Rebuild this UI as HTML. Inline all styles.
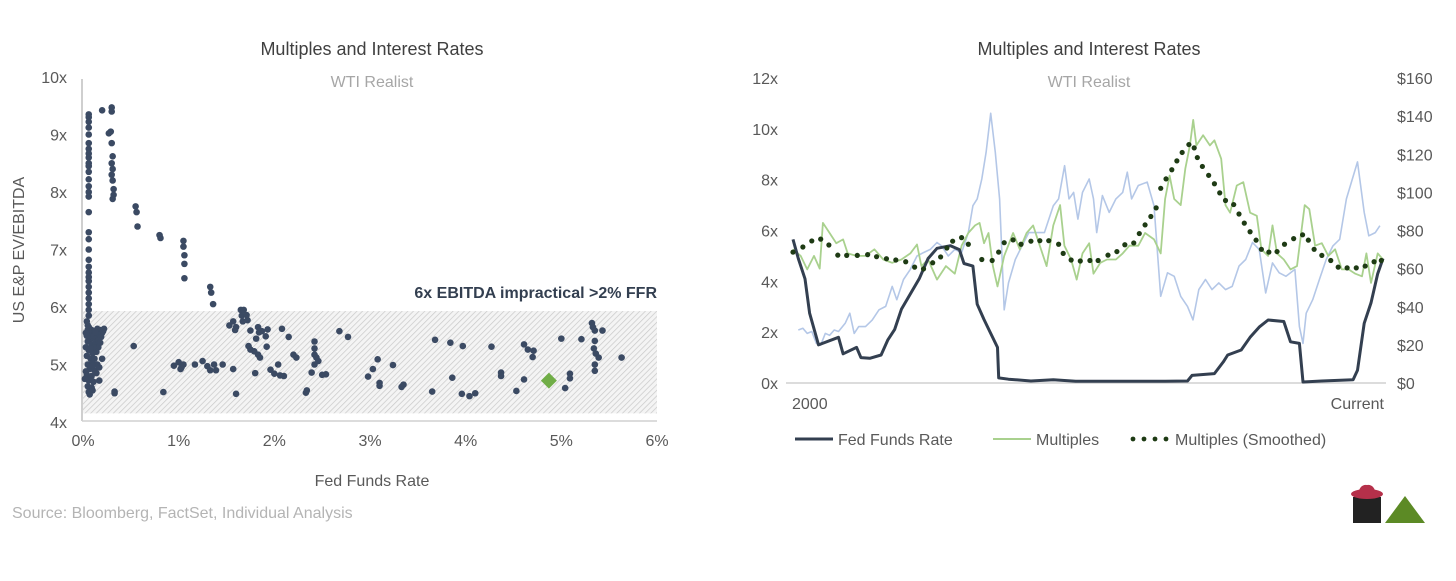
<!DOCTYPE html>
<html><head><meta charset="utf-8">
<style>
html,body{margin:0;padding:0;background:#fff;}
body{width:1456px;height:581px;overflow:hidden;position:relative;font-family:"Liberation Sans",Arial,sans-serif;}
svg{position:absolute;left:0;top:0;}
text{font-family:"Liberation Sans",Arial,sans-serif;}
</style></head>
<body>
<svg id="chart" width="1456" height="581" viewBox="0 0 1456 581">
<defs>
<pattern id="hatch" width="4" height="4" patternUnits="userSpaceOnUse" patternTransform="rotate(45)">
<rect width="4" height="4" fill="#f4f4f4"/>
<line x1="0" y1="0" x2="0" y2="4" stroke="#c8c8c8" stroke-width="1.4"/>
</pattern>
</defs>
<g id="left"></g>
<g id="right"></g>
<text x="12" y="518" font-size="16" fill="#b4b4b4">Source: Bloomberg, FactSet, Individual Analysis</text>
<g>
<rect x="1353" y="497" width="28" height="26" fill="#222"/>
<ellipse x="0" cx="1367" cy="494" rx="16" ry="5" fill="#b5304a"/>
<path d="M1358 494 Q1360 484 1367 485 Q1374 484 1376 494 Z" fill="#b5304a"/>
<polygon points="1385,523 1405,496 1425,523" fill="#5c8a25"/>
</g>
</svg>
<script>
// ---------- LEFT SCATTER DATA ----------
const scatterFFR = [0.06,0.06,0.06,0.06,0.06,0.06,0.06,0.06,0.06,0.06,0.06,0.06,0.06,0.06,0.06,0.06,0.06,0.06,0.06,0.06,0.06,0.06,0.06,0.06,0.06,0.06,0.06,0.06,0.06,0.06,0.06,
0.3,0.3,0.29,0.3,0.31,0.3,0.31,0.3,0.31,0.32,0.32,0.31,0.2,0.27,
0.55,0.56,0.57,0.8,0.81,1.05,1.05,1.06,1.06,1.06,1.33,1.34,1.36,1.65,1.66,1.67,
0.05,0.07,0.09,0.12,0.15,0.18,0.2,0.04,0.08,0.11,0.14,0.17,0.19,0.05,0.09,0.13,0.16,0.06,0.1,0.14,0.04,0.08,0.12,0.2,0.05,0.1,0.15,0.07,0.12,0.17,0.04,0.09,0.14,0.06,0.11,0.17,0.05,0.09,0.06,0.1,0.07,0.03,0.03,0.02,0.11,0.13,0.16,0.1,0.08,0.18,0.03,0.06,0.04,0.05,0.21,0.22,
0.53,0.33,0.33,0.84,0.95,1.0,1.02,1.03,1.05,1.17,1.25,1.3,1.33,1.37,1.39,1.46,1.57,1.6,1.53,1.57,1.6,1.59,1.68,1.71,1.72,
1.75,1.83,1.87,1.93,1.84,1.81,1.91,1.73,1.75,1.79,1.83,1.85,1.92,2.08,2.15,1.96,2.0,2.06,2.1,2.04,1.8,
2.2,2.23,2.42,2.42,2.42,2.44,2.46,2.42,2.39,2.5,2.54,2.34,2.33,2.68,2.77,
3.08,3.03,2.98,3.1,3.1,3.24,3.35,3.33,3.65,3.68,3.84,3.86,3.97,3.96,4.04,4.1,4.27,
4.37,4.37,4.53,4.61,4.61,4.65,4.71,4.7,5.0,5.04,5.09,5.09,5.21,
5.32,5.33,5.35,5.43,5.35,5.34,5.36,5.39,5.35,5.35,5.63];
const scatterMult = [9.35,9.3,9.22,9.12,9.0,8.85,8.75,8.67,8.6,8.5,8.45,8.35,8.22,8.1,8.0,7.92,7.65,7.3,7.18,7.0,6.82,6.7,6.6,6.52,6.45,6.35,6.25,6.15,6.05,5.95,5.85,
9.47,9.4,9.05,8.85,8.62,8.5,8.4,8.3,8.2,8.05,7.95,7.88,9.42,9.02,
7.75,7.65,7.4,7.25,7.2,7.15,7.05,6.9,6.75,6.5,6.35,6.25,6.05,5.95,5.85,5.75,
5.6,5.55,5.6,5.58,5.62,5.6,5.55,5.5,5.45,5.5,5.45,5.52,5.48,5.4,5.35,5.38,5.3,5.25,5.2,5.22,5.15,5.1,5.1,5.1,5.0,5.02,5.0,4.92,4.9,4.95,4.82,4.8,4.85,4.72,4.7,4.72,4.62,4.6,4.52,4.55,4.48,4.88,5.3,4.75,5.3,5.56,5.42,4.98,5.28,5.38,5.55,5.65,5.75,5.68,5.58,5.62,
5.32,4.53,4.5,4.52,4.98,5.04,4.92,4.95,5.0,5.0,5.06,4.97,4.9,5.0,4.9,5.0,4.92,4.49,5.68,5.75,5.65,5.6,5.95,5.86,5.77,
5.59,5.65,5.58,5.61,5.56,5.45,5.49,5.32,5.26,5.23,5.17,5.12,5.31,5.62,5.48,4.91,4.84,4.81,4.8,5.0,4.85,
5.17,5.12,5.4,5.28,5.17,5.12,5.06,5.0,4.86,4.82,4.83,4.55,4.51,5.58,5.48,
5.09,4.92,4.79,4.68,4.63,4.99,4.65,4.61,4.53,5.43,5.38,4.77,5.32,4.49,4.45,4.5,5.31,
4.86,4.8,4.54,4.74,5.35,5.26,5.24,5.13,5.45,4.59,4.84,4.76,5.44,
5.72,5.65,5.59,5.59,5.41,5.28,5.19,5.12,5.0,4.89,5.12];
const currentPoint = [4.87, 4.72];
const band = [4.15, 5.93];
const leftYTicks = [4,5,6,7,8,9,10];
const leftXTicks = [0,1,2,3,4,5,6];

// ---------- RIGHT LINE DATA ----------
const ffrDates = [0,0.22,0.5,0.69,0.97,1.06,1.89,2.08,2.64,2.82,3.19,3.66,3.94,4.22,4.5,4.87,5.24,5.61,5.98,6.54,6.91,7.1,7.47,7.65,7.93,8.21,8.49,8.54,8.95,9.88,10.81,11.74,13.6,15.45,16.38,16.57,17.5,17.87,18.05,18.61,18.98,19.36,19.73,20.38,20.66,21.03,21.18,21.96,23.26,23.44,23.72,24.0,24.28,24.5];
const ffrValues = [5.65,4.9,4.1,2.75,1.8,1.5,1.8,1.15,1.4,1.0,0.97,1.1,1.7,2.1,2.9,3.5,4.1,4.9,5.3,5.4,5.25,4.7,4.6,3.1,2.5,1.95,1.4,0.2,0.15,0.08,0.13,0.07,0.07,0.07,0.08,0.3,0.37,0.83,1.1,1.3,1.8,2.2,2.48,2.42,1.62,1.56,0.04,0.08,0.13,0.5,2.35,3.15,4.3,4.9];
const multDates = [0,0.32,0.59,0.87,1.11,1.24,1.52,1.8,2.08,2.27,2.64,3.01,3.38,3.75,4.12,4.5,4.87,5.15,5.33,5.61,5.98,6.35,6.72,7.0,7.28,7.56,7.75,7.93,8.12,8.3,8.49,8.77,9.14,9.42,9.7,9.97,10.25,10.53,10.81,11.09,11.27,11.55,11.78,12.02,12.3,12.48,12.76,13.04,13.41,13.69,13.97,14.34,14.62,14.99,15.27,15.45,15.64,15.83,16.1,16.29,16.48,16.62,16.75,17.03,17.31,17.5,17.78,17.96,18.15,18.43,18.7,18.98,19.26,19.45,19.73,19.91,20.1,20.38,20.66,20.93,21.25,21.44,21.68,21.96,22.23,22.51,22.79,23.07,23.35,23.63,23.81,24.0,24.28,24.5];
const multValues = [5.26,5.0,4.47,5.0,4.5,6.3,5.9,5.5,5.65,5.1,5.0,5.0,5.26,4.86,4.73,4.86,5.1,5.45,4.6,4.86,4.07,4.6,4.3,5.4,5.9,6.2,6.3,5.5,5.9,4.6,3.8,5.0,5.9,5.26,5.9,6.2,5.4,4.6,6.2,7.0,5.4,4.86,4.07,5.1,5.5,4.3,4.73,4.86,4.86,5.1,5.4,5.4,5.9,5.65,5.1,7.24,8.16,7.24,7.0,8.43,9.35,10.35,9.35,9.75,9.35,9.55,8.82,7.0,6.7,7.77,7.9,6.7,6.58,5.26,5.0,6.2,5.1,4.86,4.47,4.6,7.0,6.84,5.4,5.5,5.0,5.26,4.47,4.47,4.3,4.2,5.1,3.94,5.1,4.86];
const oilDates = [0.22,0.41,0.59,0.78,0.97,1.15,1.34,1.52,1.71,1.89,2.17,2.36,2.54,2.73,3.01,3.29,3.57,3.85,4.12,4.31,4.59,4.87,5.15,5.42,5.7,5.98,6.17,6.45,6.72,7.0,7.28,7.47,7.65,7.84,8.02,8.21,8.4,8.58,8.77,8.95,9.23,9.51,9.79,10.07,10.44,10.81,11.03,11.28,11.46,11.65,11.83,12.02,12.3,12.48,12.61,12.85,13.13,13.41,13.69,13.88,14.06,14.34,14.71,14.99,15.27,15.55,15.83,16.1,16.38,16.61,16.85,17.13,17.4,17.68,17.96,18.24,18.52,18.8,19.08,19.36,19.63,19.91,20.19,20.47,20.84,21.03,21.18,21.31,21.58,21.86,22.14,22.42,22.7,22.98,23.44,23.72,23.91,24.18,24.37];
const oilValues = [27.8,28.7,26,27,20.8,19.9,26,25,27.8,27,31.4,36.6,26,29.6,29.6,33,38.4,40.2,50.7,43.7,54.3,59.6,66.6,68.4,70.1,73.7,71.9,66.6,70.1,68.4,78.9,93,96.6,107,121,141.5,121,96.6,38.4,52.5,64.8,71.9,78.9,78.9,78.9,93,96.6,114,96.6,100,86,100,107,96.6,78.9,98.3,89.5,96.6,100,110.6,96.6,103.6,105.4,93,45.5,57.8,56,45.5,40.2,33.1,49,54.3,49,52.5,49,50.7,61.3,64.8,73.7,70.1,47.2,63,57.8,56,59.6,29.6,20.8,36.6,43.7,54.3,64.8,71.9,75.4,96.6,116,89.5,77.2,78.9,82.5];
const smoothDates = [0,0.41,0.78,1.15,1.49,1.86,2.23,2.67,3.1,3.47,3.88,4.27,4.68,5.05,5.42,5.8,6.13,6.39,6.63,7.0,7.28,7.84,8.27,8.54,8.77,9.14,9.47,9.88,10.25,10.62,11.03,11.22,11.55,11.93,12.33,12.67,13.08,13.45,13.78,14.15,14.38,14.62,14.86,15.08,15.27,15.49,15.73,15.94,16.16,16.44,16.66,16.79,17.0,17.26,17.5,17.72,17.96,18.3,18.52,18.74,18.98,19.23,19.45,19.76,20.1,20.41,20.79,21.16,21.4,21.64,21.96,22.33,22.64,23.01,23.39,23.76,24.13,24.43];
const smoothValues = [5.15,5.35,5.59,5.66,5.43,5.03,5.02,5.02,5.05,4.97,4.89,4.84,4.77,4.56,4.49,4.73,4.96,5.31,5.58,5.72,5.46,4.86,4.82,5.15,5.52,5.63,5.46,5.58,5.6,5.6,5.46,5.1,4.84,4.8,4.82,4.82,5.03,5.17,5.44,5.51,5.88,6.22,6.55,6.89,7.66,8.03,8.39,8.74,9.07,9.38,9.25,8.87,8.52,8.17,7.84,7.48,7.18,7.02,6.65,6.29,5.95,5.62,5.26,5.15,5.17,5.46,5.68,5.83,5.62,5.26,5.02,4.82,4.56,4.53,4.53,4.6,4.77,4.82];
const rightLeftTicks = [0,2,4,6,8,10,12];
const rightRightTicks = [0,20,40,60,80,100,120,140,160];

const NS = "http://www.w3.org/2000/svg";
function mk(parent, tag, attrs, txt){
  const el = document.createElementNS(NS, tag);
  for (const k in attrs) el.setAttribute(k, attrs[k]);
  if (txt !== undefined) el.textContent = txt;
  parent.appendChild(el);
  return el;
}

// ---------- LEFT CHART ----------
const L = document.getElementById('left');
const lx = v => 83 + v * (574 / 6);
const ly = v => 422 - (v - 4) * 57.5;

let t = mk(L,'text',{x:372,y:55,'text-anchor':'middle','font-size':18,fill:'#404040'},'Multiples and Interest Rates');


t = mk(L,'text',{x:372,y:87,'text-anchor':'middle','font-size':16,fill:'#a6a6a6'},'WTI Realist');



let bandRect = mk(L,'rect',{x:lx(0),y:ly(band[1]),width:lx(6)-lx(0),height:ly(band[0])-ly(band[1]),fill:'url(#hatch)'});



let ax = mk(L,'line',{x1:82,y1:ly(10)+2,x2:82,y2:ly(4)-1,stroke:'#bfbfbf','stroke-width':1.5});


ax = mk(L,'line',{x1:82,y1:ly(4)-1,x2:lx(6),y2:ly(4)-1,stroke:'#d0d0d0','stroke-width':1.5});



leftYTicks.forEach(v=>{
  const e = mk(L,'text',{x:67,y:ly(v)+6,'text-anchor':'end','font-size':16,fill:'#595959'},v+'x');
  
  
});
leftXTicks.forEach(v=>{
  const e = mk(L,'text',{x:lx(v),y:446,'text-anchor':'middle','font-size':16,fill:'#595959'},v+'%');
  
  
});
t = mk(L,'text',{x:372,y:486,'text-anchor':'middle','font-size':16,fill:'#595959'},'Fed Funds Rate');


t = mk(L,'text',{x:0,y:0,'text-anchor':'middle','font-size':16,fill:'#595959',transform:'translate(24,250) rotate(-90)'},'US E&P EV/EBITDA');


t = mk(L,'text',{x:657,y:298,'text-anchor':'end','font-size':16,'font-weight':'bold',fill:'#333f50'},'6x EBITDA impractical >2% FFR');



scatterFFR.forEach((f,i)=>{
  const c = mk(L,'circle',{cx:lx(f),cy:ly(scatterMult[i]),r:3.3,fill:'#3b4a63'});
  
  
});
const dx = lx(currentPoint[0]), dy = ly(currentPoint[1]);
let dia = mk(L,'polygon',{points:`${dx},${dy-8} ${dx+8},${dy} ${dx},${dy+8} ${dx-8},${dy}`,fill:'#70ad47'});



// ---------- RIGHT CHART ----------
const R = document.getElementById('right');
const rx = v => 793 + v * (590 / 24.5);
const ryL = v => 383 - v * (305 / 12);
const ryR = v => 383 - v * (305 / 160);

t = mk(R,'text',{x:1089,y:55,'text-anchor':'middle','font-size':18,fill:'#404040'},'Multiples and Interest Rates');


t = mk(R,'text',{x:1089,y:87,'text-anchor':'middle','font-size':16,fill:'#a6a6a6'},'WTI Realist');



rightLeftTicks.forEach(v=>{
  const e = mk(R,'text',{x:778,y:ryL(v)+6,'text-anchor':'end','font-size':16,fill:'#595959'},v+'x');
  
  
});
rightRightTicks.forEach(v=>{
  const e = mk(R,'text',{x:1397,y:ryR(v)+6,'text-anchor':'start','font-size':16,fill:'#595959'},'$'+v);
  
  
});
ax = mk(R,'line',{x1:786,y1:383,x2:1386,y2:383,stroke:'#d0d0d0','stroke-width':1.5});


t = mk(R,'text',{x:792,y:409,'font-size':16,fill:'#595959'},'2000');


t = mk(R,'text',{x:1384,y:409,'text-anchor':'end','font-size':16,fill:'#595959'},'Current');



function pathFrom(xs, ys, fy){
  return xs.map((d,i)=>(i?'L':'M')+rx(d).toFixed(1)+' '+fy(ys[i]).toFixed(1)).join(' ');
}
let p = mk(R,'path',{d:pathFrom(oilDates,oilValues,ryR),fill:'none',stroke:'#b4c7e7','stroke-width':1.6,'stroke-linejoin':'round'});


p = mk(R,'path',{d:pathFrom(multDates,multValues,ryL),fill:'none',stroke:'#a9d18e','stroke-width':1.8,'stroke-linejoin':'round'});


p = mk(R,'path',{d:pathFrom(ffrDates,ffrValues,ryL),fill:'none',stroke:'#333f50','stroke-width':3,'stroke-linejoin':'round'});


smoothDates.forEach((d,i)=>{
  const c = mk(R,'circle',{cx:rx(d),cy:ryL(smoothValues[i]),r:2.6,fill:'#1e3b14'});
  
  
});

// legend
const lg = mk(R,'g',{});


let e = mk(lg,'line',{x1:795,y1:439,x2:833,y2:439,stroke:'#333f50','stroke-width':3});


e = mk(lg,'text',{x:838,y:445,'font-size':16,fill:'#595959'},'Fed Funds Rate');


e = mk(lg,'line',{x1:993,y1:439,x2:1031,y2:439,stroke:'#a9d18e','stroke-width':2});


e = mk(lg,'text',{x:1036,y:445,'font-size':16,fill:'#595959'},'Multiples');


[1133,1144,1155,1166].forEach(cx=>{
  const c = mk(lg,'circle',{cx:cx,cy:439,r:2.4,fill:'#1e3b14'});
  
  
});
e = mk(lg,'text',{x:1175,y:445,'font-size':16,fill:'#595959'},'Multiples (Smoothed)');


</script>
</body></html>
